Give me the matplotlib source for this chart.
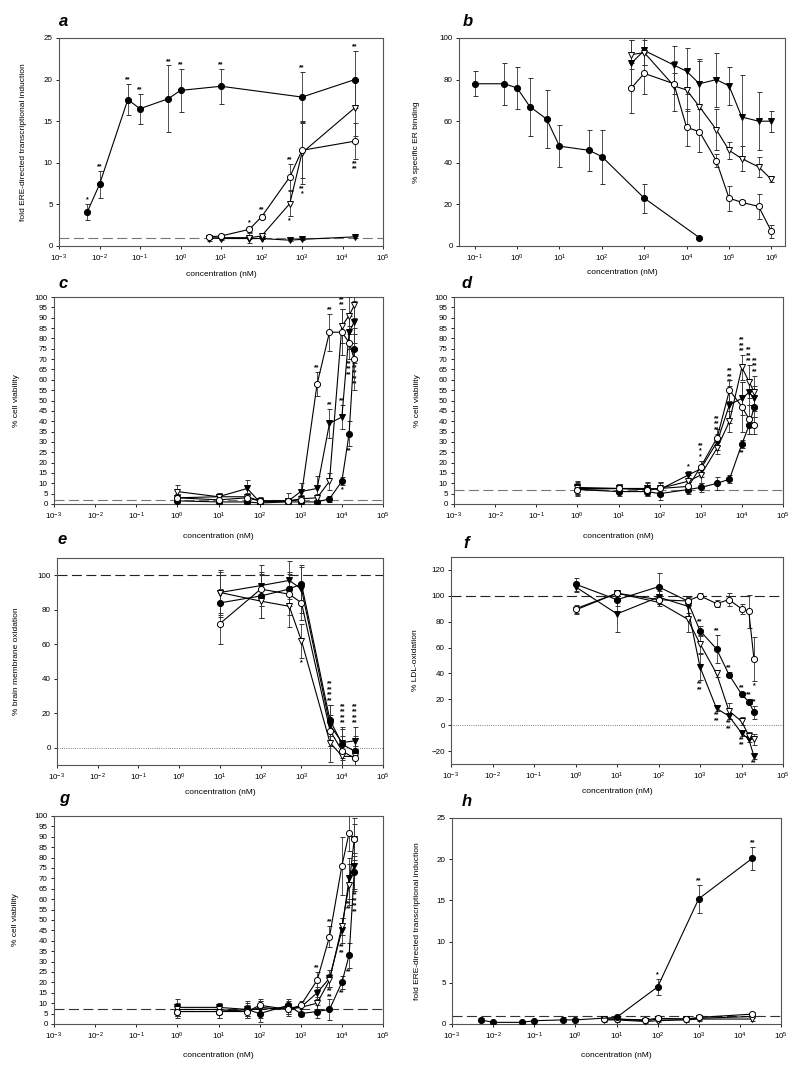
# dose-response panels a-h, estrogenic / antioxidant / viability data
import matplotlib
matplotlib.use('Agg')
import matplotlib.pyplot as plt
from matplotlib.ticker import LogLocator, NullLocator, MultipleLocator

plt.rcParams['font.family'] = ['Liberation Sans', 'DejaVu Sans']
plt.rcParams['mathtext.default'] = 'regular'

# ---------------- panel a ----------------
a_x_fc = [0.005, 0.01, 0.05, 0.1, 0.5, 1, 10, 1000, 20000]
a_fc = [4.1, 7.4, 17.6, 16.5, 17.7, 18.7, 19.2, 17.9, 20.0]
a_fc_err = [1.0, 1.6, 1.9, 1.8, 4.0, 2.6, 2.1, 3.0, 3.4]
a_x = [5, 10, 50, 100, 500, 1000, 20000]
a_oc = [1.1, 1.2, 2.0, 3.5, 8.3, 11.5, 12.6]
a_oc_err = [0.2, 0.2, 0.3, 0.3, 1.6, 3.3, 2.2]
a_ot = [0.9, 1.0, 1.0, 1.2, 5.1, 11.2, 16.6]
a_ot_err = [0.3, 0.3, 0.6, 0.4, 1.5, 3.8, 3.4]
a_ft = [1.0, 0.9, 0.9, 0.9, 0.7, 0.8, 1.1]
a_ft_err = [0.1, 0.1, 0.1, 0.1, 0.1, 0.1, 0.1]

# ---------------- panel b ----------------
b_x_fc = [0.1, 0.5, 1, 2, 5, 10, 50, 100, 1000, 20000]
b_fc = [78, 78, 76, 67, 61, 48, 46, 43, 23, 4]
b_fc_err = [6, 10, 10, 14, 14, 10, 10, 13, 7, 0]
b_x = [500, 1000, 5000, 10000, 20000, 50000, 1e5, 2e5, 5e5, 1e6]
b_oc = [76, 83, 78, 57, 55, 41, 23, 21, 19, 7]
b_oc_err = [12, 10, 5, 9, 0, 3, 6, 1, 6, 3]
b_ot = [92, 93, 77, 75, 67, 56, 46, 42, 38, 32]
b_ot_err = [7, 6, 12, 10, 22, 10, 4, 6, 5, 1]
b_ft = [88, 94, 87, 84, 78, 80, 77, 62, 60, 60]
b_ft_err = [11, 7, 9, 11, 12, 13, 9, 20, 14, 5]

# ---------------- panel c ----------------
cell_x = [1, 10, 50, 100, 500, 1000, 2500, 5000, 10000, 15000, 20000]
c_fc = [1.5, 1, 1, 0.5, 1, 1, 1, 2.5, 11, 34, 75]
c_fc_err = [1, 1, 1, 1, 1, 1, 1, 1.5, 2, 6, 7]
c_oc = [3, 2, 3, 1.5, 1.5, 2, 58, 83, 83, 78, 70]
c_oc_err = [2, 2, 1.5, 1.5, 1.5, 1.5, 6, 9, 11, 8, 15]
c_ft = [3, 3.5, 7.5, 1, 1.5, 6, 7.5, 39, 42, 83, 88]
c_ft_err = [2, 2, 4, 1.5, 1.5, 4, 6, 7, 6, 8, 10]
c_ot = [6, 3.5, 3.5, 1.5, 1.5, 2.5, 3, 11, 86, 91, 96]
c_ot_err = [3, 2, 2, 2, 4, 2, 2, 4, 8, 9, 6]

# ---------------- panel d ----------------
d_fc = [7, 6, 6, 5, 7, 8, 10, 12, 29, 38, 47]
d_fc_err = [2, 2, 2, 3, 2, 2, 3, 2, 2, 4, 5]
d_oc = [7, 7.5, 7, 7.5, 8.5, 18, 32, 55, 47, 41, 38]
d_oc_err = [3, 2, 3, 3, 2, 3, 4, 5, 12, 7, 4]
d_ft = [8, 7.5, 7.5, 7, 14, 17, 30, 48, 51, 54, 51]
d_ft_err = [3, 2, 3, 3, 2, 4, 4, 9, 8, 6, 6]
d_ot = [7.5, 7.5, 7, 7.5, 11, 14, 27, 40, 66, 59, 54]
d_ot_err = [3, 2, 2, 3, 3, 4, 3, 5, 6, 8, 8]

# ---------------- panel e ----------------
e_x = [10, 100, 500, 1000, 5000, 10000, 20000]
e_fc = [84, 88, 92, 95, 16, 2, -2]
e_fc_err = [8, 13, 10, 10, 9, 9, 9]
e_oc = [72, 92, 89, 84, 10, -2, -6]
e_oc_err = [12, 10, 12, 10, 9, 9, 5]
e_ft = [90, 94, 97, 92, 13, 3, 4]
e_ft_err = [13, 12, 11, 14, 12, 9, 8]
e_ot = [90, 85, 82, 62, 3, -5, -5]
e_ot_err = [12, 10, 12, 10, 11, 8, 6]

# ---------------- panel f ----------------
f_x = [1, 10, 100, 500, 1000, 2500, 5000, 10000, 15000, 20000]
f_fc = [109, 97, 107, 96, 73, 59, 39, 24, 18, 10]
f_fc_err = [5, 5, 11, 3, 4, 11, 2, 2, 2, 5]
f_oc = [90, 102, 97, 96, 100, 94, 97, 90, 88, 51]
f_oc_err = [3, 2, 3, 3, 2, 3, 5, 4, 13, 17]
f_ft = [107, 86, 99, 92, 45, 13, 7, -6, -11, -24]
f_ft_err = [4, 14, 5, 5, 10, 2, 2, 2, 2, 2]
f_ot = [89, 102, 95, 82, 63, 40, 11, 3, -8, -11]
f_ot_err = [3, 2, 3, 10, 7, 3, 6, 3, 3, 4]

# ---------------- panel g ----------------
g_fc = [6, 6, 7, 5, 9, 5, 6, 7, 20, 33, 73]
g_fc_err = [3, 3, 3, 4, 3, 1, 3, 5, 3, 6, 8]
g_oc = [6, 6, 6, 9, 7, 9, 21, 42, 76, 92, 89]
g_oc_err = [2, 3, 3, 3, 3, 2, 4, 5, 14, 9, 10]
g_ft = [8, 8, 7, 7, 8, 8, 15, 22, 45, 70, 76]
g_ft_err = [4, 2, 4, 4, 3, 2, 3, 4, 6, 10, 12]
g_ot = [7, 7, 6, 8, 7, 8, 10, 21, 47, 67, 89]
g_ot_err = [3, 2, 2, 3, 2, 2, 3, 3, 4, 10, 7]

# ---------------- panel h ----------------
h_x_fc = [0.005, 0.01, 0.05, 0.1, 0.5, 1, 10, 100, 1000, 20000]
h_fc = [0.5, 0.2, 0.2, 0.4, 0.5, 0.5, 0.8, 4.5, 15.2, 20.1]
h_fc_err = [0.2, 0.1, 0.1, 0.1, 0.3, 0.1, 0.2, 1.0, 1.7, 1.4]
h_x = [5, 10, 50, 100, 500, 1000, 20000]
h_oc = [0.6, 0.6, 0.5, 0.7, 0.6, 0.8, 1.2]
h_ot = [0.5, 0.5, 0.3, 0.4, 0.5, 0.6, 0.6]
h_ft = [0.6, 0.6, 0.4, 0.6, 0.6, 0.7, 0.9]
h_small_err = [0.2, 0.2, 0.2, 0.2, 0.2, 0.2, 0.2]

# significance marks (above / below the error bar), '' = none
a_fc_up = ['*', '**', '**', '**', '**', '**', '**', '**', '**']
a_oc_up = ['', '', '*', '**', '**', '', '']
a_oc_lo = ['', '', '', '', '', '', '**\n**']
a_ot_lo = ['', '', '', '', '*', '**\n*', '']
h_fc_up = ['', '', '', '', '', '', '', '*', '**', '**']
c_oc_up = ['', '', '', '', '', '', '**', '**', '', '', '']
c_ft_up = ['', '', '', '', '', '', '', '**', '**', '', '']
c_ot_up = ['', '', '', '', '', '', '', '', '**\n**', '', '']
c_fc_lo = ['', '', '', '', '', '', '', '', '*', '**', '**\n**\n**\n**']
c_oc_lo = ['', '', '', '', '', '', '', '', '', '**\n**\n**', '']
d_ft_up = ['', '', '', '', '*', '**\n*\n*', '**\n**\n**', '**\n**\n**', '', '', '']
d_ot_up = ['', '', '', '', '', '', '', '', '**\n**\n**', '**\n**\n**', '**\n**\n**']
d_fc_lo = ['', '', '', '', '', '', '', '', '**', '', '']
e_ot_lo = ['', '', '', '*', '', '', '']
e_ft_up = ['', '', '', '', '**\n**\n**\n**', '**\n**\n**\n**', '**\n**\n**\n**']
f_fc_up = ['', '', '', '', '**', '**', '**', '**', '**', '**']
f_ft_lo = ['', '', '', '', '**\n**', '**\n**', '**\n**', '**\n**', '', '**']
f_oc_lo = ['', '', '', '', '', '', '', '', '', '*']
g_oc_up = ['', '', '', '', '', '', '**', '**', '', '**', '']
g_ft_lo = ['', '', '', '', '', '', '', '**\n**', '**\n**', '**\n**', '**\n**\n**\n**']
g_fc_lo = ['', '', '', '', '', '', '', '', '**', '**', '']

STYLE = {'fc': ('o', 'black'), 'oc': ('o', 'white'),
         'ft': ('v', 'black'), 'ot': ('v', 'white')}
W, H = 800, 1070


def series(ax, x, y, err, kind, up=None, lo=None):
    m, face = STYLE[kind]
    ax.errorbar(x, y, yerr=err, marker=m, mfc=face, mec='black', mew=0.7,
                ms=4.4, color='black', lw=0.8, ecolor='#333333',
                elinewidth=0.6, capsize=1.8, capthick=0.6, zorder=3)
    for i in range(len(x)):
        if up and up[i]:
            ax.annotate(up[i], (x[i], y[i] + err[i]), xytext=(0, 0.5),
                        textcoords='offset points', ha='center', va='bottom',
                        fontsize=5, fontweight='bold', linespacing=0.7)
        if lo and lo[i]:
            ax.annotate(lo[i], (x[i], y[i] - err[i]), xytext=(0, -0.5),
                        textcoords='offset points', ha='center', va='top',
                        fontsize=5, fontweight='bold', linespacing=0.7)


def panel(box, letter, letter_xy, ylabel, ylim, ystep, xlim, ref, zero,
          ylab_off, xlab_off):
    l, r, t, b = box
    ax = plt.gcf().add_axes([l / W, 1 - b / H, (r - l) / W, (b - t) / H])
    ax.set_xscale('log')
    ax.set_xlim(*xlim)
    ax.set_ylim(*ylim)
    ax.xaxis.set_major_locator(LogLocator(base=10, numticks=20))
    ax.xaxis.set_minor_locator(NullLocator())
    ax.yaxis.set_major_locator(MultipleLocator(ystep))
    ax.tick_params(labelsize=5.8, length=2.5, width=0.6, pad=2)
    for s in ax.spines.values():
        s.set_color('#555555')
        s.set_linewidth(0.8)
    ax.set_ylabel(ylabel, fontsize=6)
    ax.set_xlabel('concentration (nM)', fontsize=6)
    ax.yaxis.set_label_coords(-ylab_off / (r - l), 0.5)
    ax.xaxis.set_label_coords(0.5, -xlab_off / (b - t))
    if ref is not None:
        ax.axhline(ref[0], color=ref[1], ls=(0, (9, 4)), lw=0.8, zorder=1)
    if zero:
        ax.axhline(0, color='#555555', ls=':', lw=0.6, zorder=1)
    plt.gcf().text(letter_xy[0] / W, 1 - letter_xy[1] / H, letter,
                   fontsize=12, fontweight='bold', style='italic',
                   ha='center', va='center')
    return ax


fig = plt.figure(figsize=(8, 10.7), dpi=100)
lx = (1e-3, 1e5)
ERE = 'fold ERE-directed transcriptional induction'

ax = panel((59, 383, 38, 246), 'a', (64, 22), ERE, (0, 25), 5, lx,
           (1, '#777777'), False, 32, 25)
series(ax, a_x_fc, a_fc, a_fc_err, 'fc', a_fc_up)
series(ax, a_x, a_ft, a_ft_err, 'ft')
series(ax, a_x, a_ot, a_ot_err, 'ot', None, a_ot_lo)
series(ax, a_x, a_oc, a_oc_err, 'oc', a_oc_up, a_oc_lo)

ax = panel((459, 785, 38, 246), 'b', (468, 22), '% specific ER binding',
           (0, 100), 20, (10 ** -1.37, 10 ** 6.32), None, False, 39, 23)
series(ax, b_x_fc, b_fc, b_fc_err, 'fc')
series(ax, b_x, b_ft, b_ft_err, 'ft')
series(ax, b_x, b_ot, b_ot_err, 'ot')
series(ax, b_x, b_oc, b_oc_err, 'oc')

ax = panel((54, 383, 297, 504), 'c', (63, 283), '% cell viability',
           (0, 100), 5, lx, (2, '#777777'), False, 34, 29)
series(ax, cell_x, c_fc, c_fc_err, 'fc', None, c_fc_lo)
series(ax, cell_x, c_ft, c_ft_err, 'ft', c_ft_up)
series(ax, cell_x, c_ot, c_ot_err, 'ot', c_ot_up)
series(ax, cell_x, c_oc, c_oc_err, 'oc', c_oc_up, c_oc_lo)

ax = panel((454, 783, 297, 504), 'd', (467, 283), '% cell viability',
           (0, 100), 5, lx, (7, '#777777'), False, 33, 29)
series(ax, cell_x, d_fc, d_fc_err, 'fc', None, d_fc_lo)
series(ax, cell_x, d_ft, d_ft_err, 'ft', d_ft_up)
series(ax, cell_x, d_ot, d_ot_err, 'ot', d_ot_up)
series(ax, cell_x, d_oc, d_oc_err, 'oc')

ax = panel((57, 383, 558, 765), 'e', (62, 540), '% brain membrane oxidation',
           (-10, 110), 20, lx, (100, '#222222'), True, 37, 24)
series(ax, e_x, e_fc, e_fc_err, 'fc')
series(ax, e_x, e_ft, e_ft_err, 'ft', e_ft_up)
series(ax, e_x, e_ot, e_ot_err, 'ot', None, e_ot_lo)
series(ax, e_x, e_oc, e_oc_err, 'oc')

ax = panel((451, 783, 557, 764), 'f', (466, 543), '% LDL-oxidation',
           (-30, 130), 20, lx, (100, '#222222'), True, 32, 24)
series(ax, f_x, f_fc, f_fc_err, 'fc', f_fc_up)
series(ax, f_x, f_ft, f_ft_err, 'ft', None, f_ft_lo)
series(ax, f_x, f_ot, f_ot_err, 'ot')
series(ax, f_x, f_oc, f_oc_err, 'oc', None, f_oc_lo)

ax = panel((54, 383, 816, 1024), 'g', (64, 798), '% cell viability',
           (0, 100), 5, lx, (7, '#333333'), False, 35, 28)
series(ax, cell_x, g_fc, g_fc_err, 'fc', None, g_fc_lo)
series(ax, cell_x, g_ft, g_ft_err, 'ft', None, g_ft_lo)
series(ax, cell_x, g_ot, g_ot_err, 'ot')
series(ax, cell_x, g_oc, g_oc_err, 'oc', g_oc_up)

ax = panel((452, 781, 818, 1024), 'h', (467, 801), ERE, (0, 25), 5, lx,
           (1, '#333333'), False, 31, 28)
series(ax, h_x, h_ft, h_small_err, 'ft')
series(ax, h_x, h_ot, h_small_err, 'ot')
series(ax, h_x, h_oc, h_small_err, 'oc')
series(ax, h_x_fc, h_fc, h_fc_err, 'fc', h_fc_up)

fig.savefig('out.png', dpi=100)
